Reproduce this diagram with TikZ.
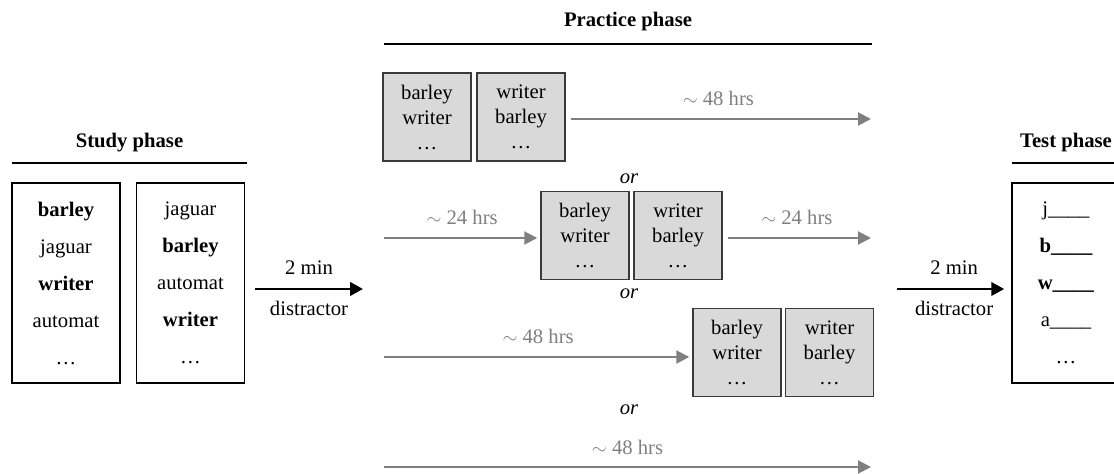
\documentclass[tikz,border=0pt]{standalone}
\usepackage{fontspec}
\setmainfont{Liberation Serif}
\usetikzlibrary{positioning,arrows.meta}

\definecolor{boxfill}{HTML}{D9D9D9}
\definecolor{boxline}{HTML}{3A3A3A}
\definecolor{delaygray}{HTML}{7F7F7F}

\tikzset{
  phasetitle/.style={font=\fontsize{15.5}{18}\selectfont\bfseries},
  listbox/.style={draw, line width=1.1pt, minimum width=81pt, minimum height=150pt,
    align=center, font=\fontsize{15.5}{27.75}\selectfont},
  pairbox/.style={draw=boxline, line width=1.1pt, fill=boxfill, minimum width=66pt,
    minimum height=66pt, inner sep=0pt, align=center,
    font=\fontsize{15.5}{18.75}\selectfont},
  delay/.style={draw=delaygray, line width=1.5pt, -{Triangle[length=9.75pt,width=9.75pt]}},
  delaylabel/.style={text=delaygray, font=\fontsize{15.5}{18}\selectfont},
  distract/.style={line width=2.2pt, -{Triangle[length=9.75pt,width=10pt]}},
  plain/.style={font=\fontsize{15.5}{18}\selectfont},
  ortext/.style={font=\fontsize{15.5}{18}\selectfont\itshape},
}

\begin{document}
\begin{tikzpicture}[x=0.75pt,y=-0.75pt]
  \useasboundingbox (0,0) rectangle (1114,474);

  % study phase
  \node[phasetitle] (studytitle) at (129.5,143) {Study phase};
  \draw[line width=1.1pt] (12,163) -- (247,163);
  \node[listbox] (study1) at (66,283) {\textbf{barley}\\jaguar\\\textbf{writer}\\automat\\…};
  \node[listbox] (study2) at (190.5,283) {jaguar\\\textbf{barley}\\automat\\\textbf{writer}\\…};

  \coordinate (dist1start) at (255,289);
  \coordinate (dist1end) at (363,289);
  \draw[distract] (dist1start) -- node[plain, above=6.4pt] {2 min}
    node[plain, below=4.9pt] {distractor} (dist1end);

  % practice phase
  \node[phasetitle] (practicetitle) at (628,22) {Practice phase};
  \draw[line width=1.1pt] (384,44) -- (872,44);

  \node[pairbox] (r1a) at (427,117) {barley\\writer\\…};
  \node[pairbox] (r1b) at (521,117) {writer\\barley\\…};
  \node[pairbox] (r2a) at (585,235.5) {barley\\writer\\…};
  \node[pairbox] (r2b) at (678,235.5) {writer\\barley\\…};
  \node[pairbox] (r3a) at (737,352.5) {barley\\writer\\…};
  \node[pairbox] (r3b) at (829.5,352.5) {writer\\barley\\…};

  \coordinate (r1end) at (871,119);
  \coordinate (r2start) at (384,238);
  \coordinate (r2end) at (871,238);
  \coordinate (r3start) at (384,357);
  \coordinate (r4start) at (384,467);
  \coordinate (r4end) at (871,467);

  \draw[delay, shorten <=3.75pt] (r1end -| r1b.east) -- node[delaylabel, above=5.6pt] {$\sim$ 48 hrs} (r1end);
  \draw[delay, shorten >=2.25pt] (r2start) -- node[delaylabel, above=5.6pt] {$\sim$ 24 hrs} (r2start -| r2a.west);
  \draw[delay, shorten <=3.75pt] (r2end -| r2b.east) -- node[delaylabel, above=5.6pt] {$\sim$ 24 hrs} (r2end);
  \draw[delay, shorten >=2.25pt] (r3start) -- node[delaylabel, above=5.6pt] {$\sim$ 48 hrs} (r3start -| r3a.west);
  \draw[delay] (r4start) -- node[delaylabel, above=4.9pt] {$\sim$ 48 hrs} (r4end);

  \node[ortext] (or1) at (629,179) {or};
  \node[ortext] (or2) at (629,294) {or};
  \node[ortext] (or3) at (629,410) {or};

  % test phase
  \node[phasetitle] (testtitle) at (1066,143) {Test phase};
  \draw[line width=1.1pt] (1012,163) -- (1130,163);
  \node[listbox] (test) at (1066,283) {j\_\_\_\_\\\textbf{b\_\_\_\_}\\\textbf{w\_\_\_\_}\\a\_\_\_\_\\…};

  \coordinate (dist2start) at (897,289);
  \draw[distract, shorten >=5.25pt] (dist2start) -- node[plain, above=6.4pt] {2 min}
    node[plain, below=4.9pt] {distractor} (dist2start -| test.west);
\end{tikzpicture}
\end{document}
